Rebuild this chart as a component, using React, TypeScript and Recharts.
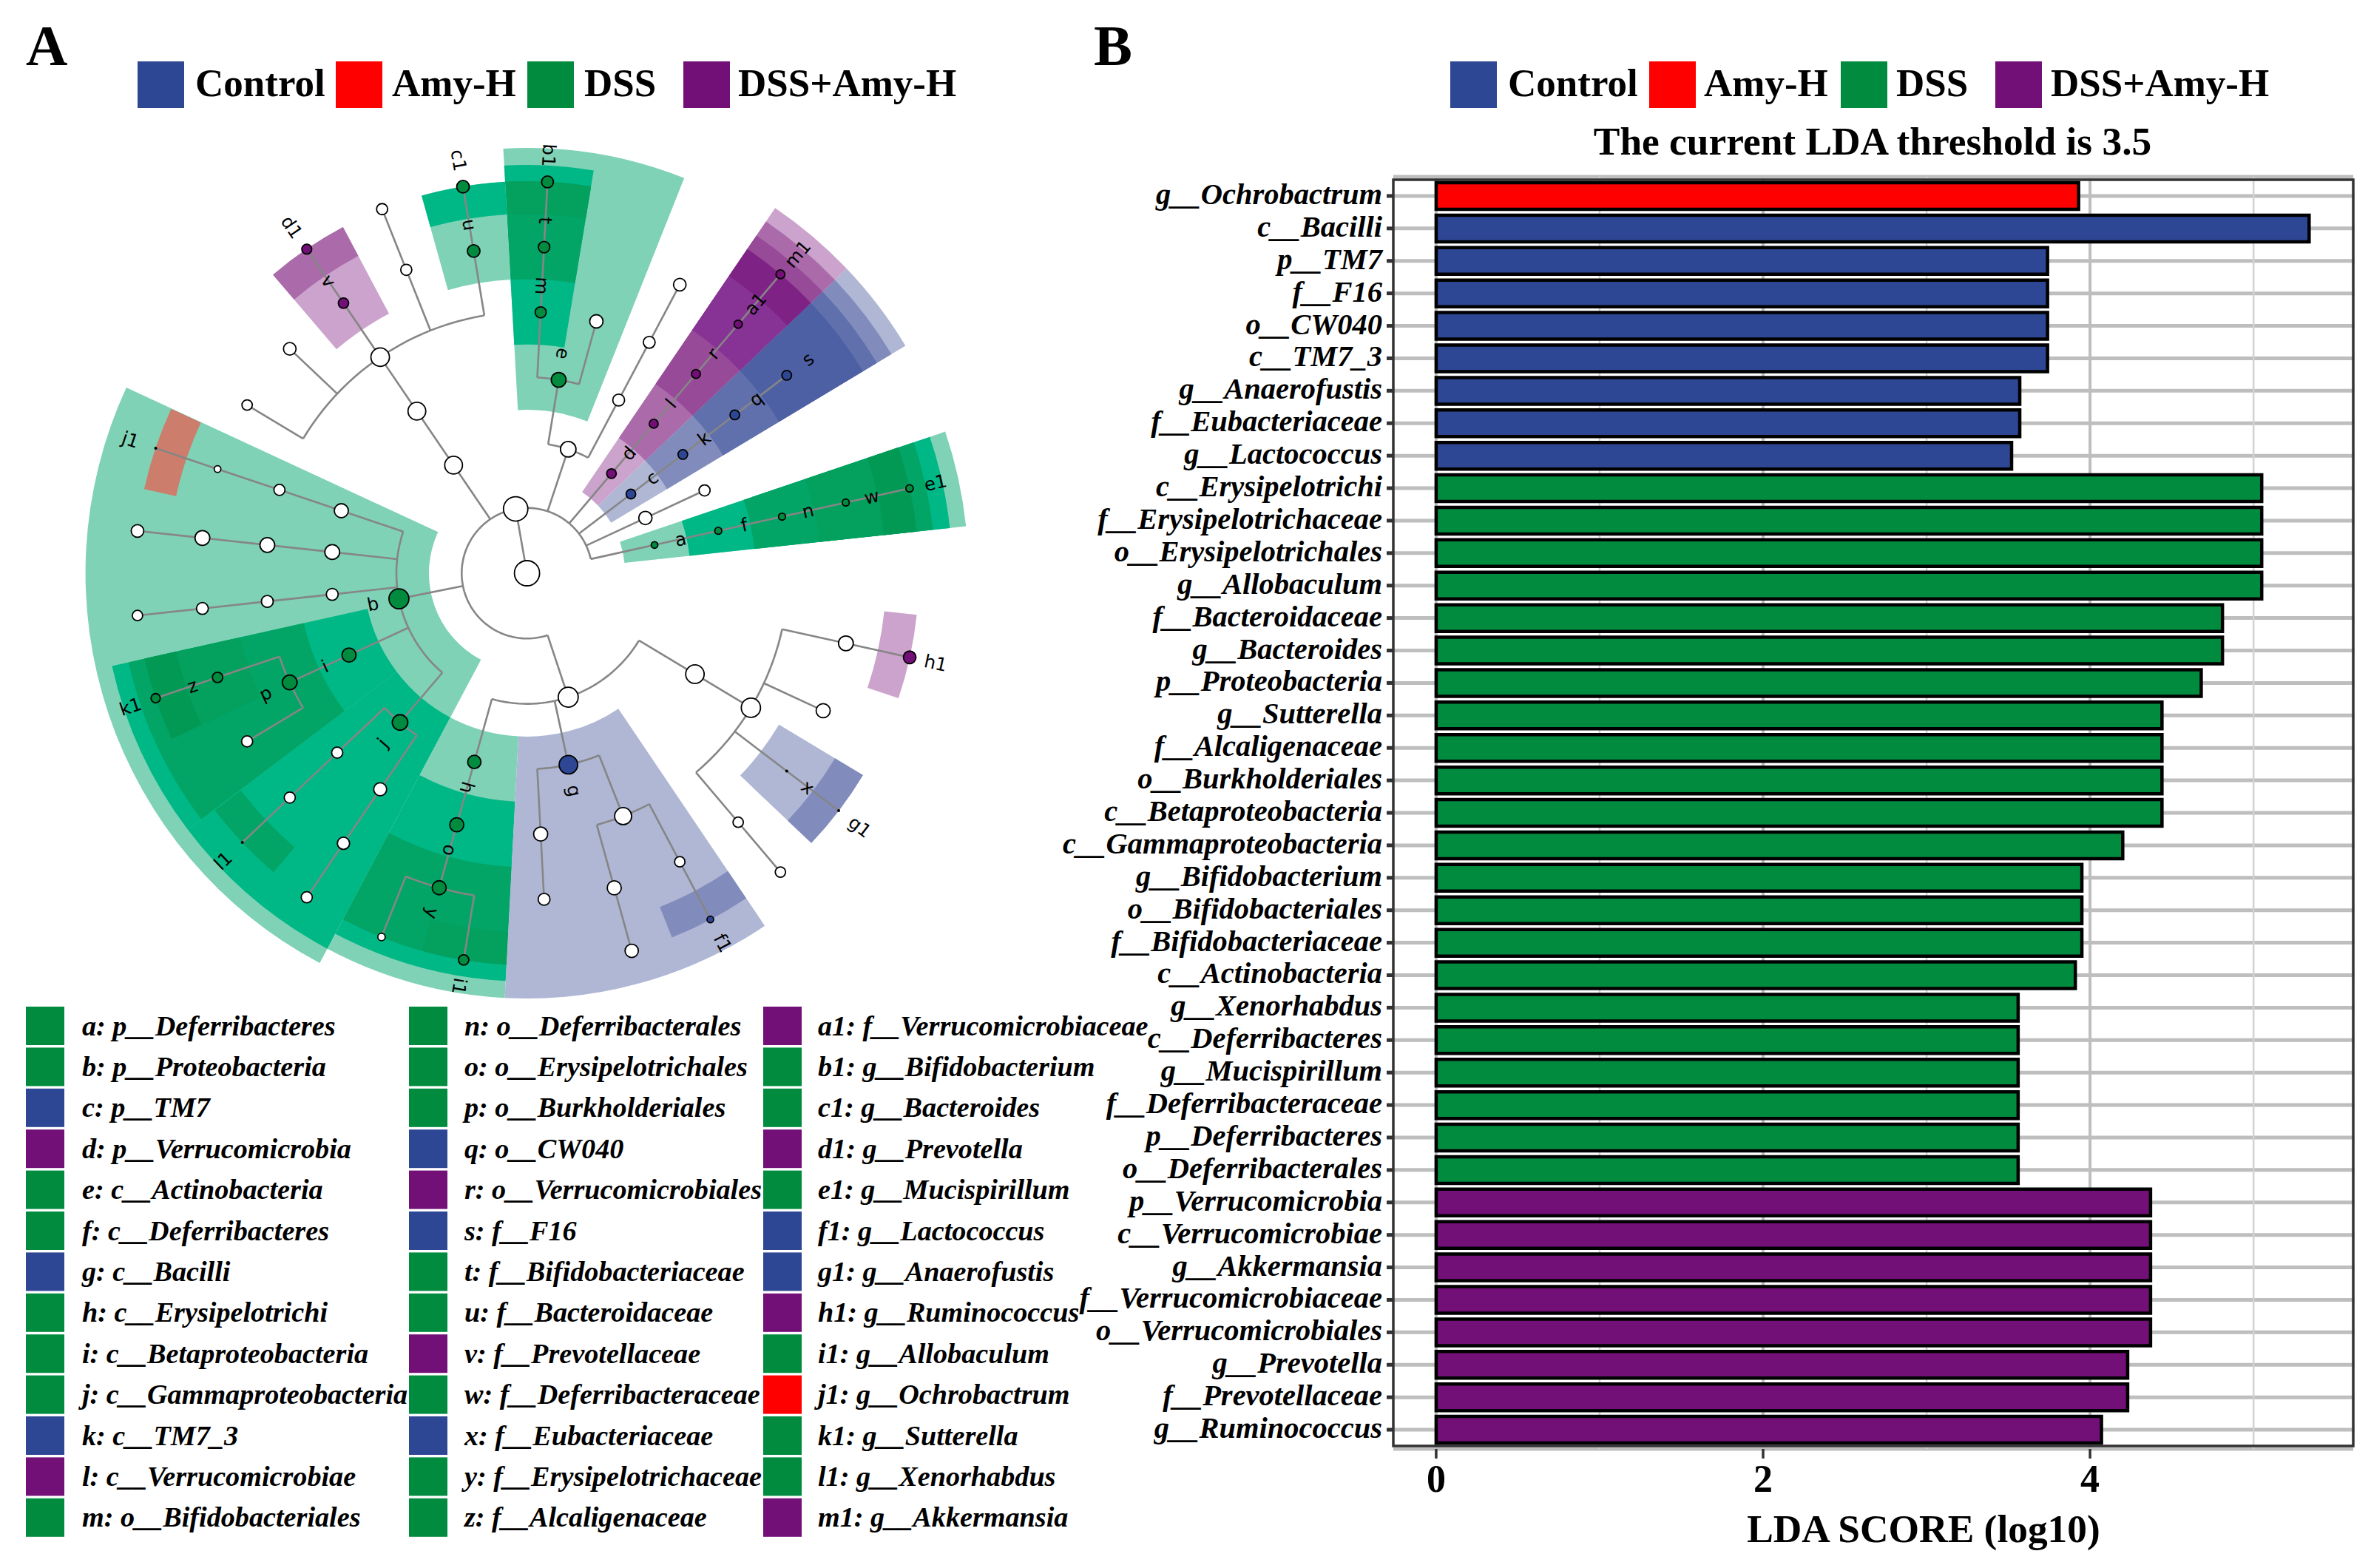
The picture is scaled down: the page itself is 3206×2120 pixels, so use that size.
import React from 'react';
import { BarChart, Bar, Cell, XAxis, YAxis, CartesianGrid, ReferenceArea, PieChart, Pie, ScatterChart, Scatter } from 'recharts';

const groupNames = ['Control', 'Amy-H', 'DSS', 'DSS+Amy-H'];
const C = '#2E4795', R = '#FF0000', G = '#018B3F', P = '#721078';
const groupColors = [C, R, G, P];

// ---------- LDA bars
const barTaxa = ['g__Ochrobactrum','c__Bacilli','p__TM7','f__F16','o__CW040','c__TM7_3','g__Anaerofustis','f__Eubacteriaceae','g__Lactococcus','c__Erysipelotrichi','f__Erysipelotrichaceae','o__Erysipelotrichales','g__Allobaculum','f__Bacteroidaceae','g__Bacteroides','p__Proteobacteria','g__Sutterella','f__Alcaligenaceae','o__Burkholderiales','c__Betaproteobacteria','c__Gammaproteobacteria','g__Bifidobacterium','o__Bifidobacteriales','f__Bifidobacteriaceae','c__Actinobacteria','g__Xenorhabdus','c__Deferribacteres','g__Mucispirillum','f__Deferribacteraceae','p__Deferribacteres','o__Deferribacterales','p__Verrucomicrobia','c__Verrucomicrobiae','g__Akkermansia','f__Verrucomicrobiaceae','o__Verrucomicrobiales','g__Prevotella','f__Prevotellaceae','g__Ruminococcus'];
const barScores = [3.93,5.34,3.74,3.74,3.74,3.74,3.57,3.57,3.52,5.05,5.05,5.05,5.05,4.81,4.81,4.68,4.44,4.44,4.44,4.44,4.2,3.95,3.95,3.95,3.91,3.56,3.56,3.56,3.56,3.56,3.56,4.37,4.37,4.37,4.37,4.37,4.23,4.23,4.07];
const barGroups = [R,C,C,C,C,C,C,C,C,G,G,G,G,G,G,G,G,G,G,G,G,G,G,G,G,G,G,G,G,G,G,P,P,P,P,P,P,P,P];
const barRows = barTaxa.map((name, i) => ({ name, score: barScores[i] }));
const xTicks = [0, 2, 4];

// ---------- taxa legend
const key1 = ['a: p__Deferribacteres','b: p__Proteobacteria','c: p__TM7','d: p__Verrucomicrobia','e: c__Actinobacteria','f: c__Deferribacteres','g: c__Bacilli','h: c__Erysipelotrichi','i: c__Betaproteobacteria','j: c__Gammaproteobacteria','k: c__TM7_3','l: c__Verrucomicrobiae','m: o__Bifidobacteriales'];
const key2 = ['n: o__Deferribacterales','o: o__Erysipelotrichales','p: o__Burkholderiales','q: o__CW040','r: o__Verrucomicrobiales','s: f__F16','t: f__Bifidobacteriaceae','u: f__Bacteroidaceae','v: f__Prevotellaceae','w: f__Deferribacteraceae','x: f__Eubacteriaceae','y: f__Erysipelotrichaceae','z: f__Alcaligenaceae'];
const key3 = ['a1: f__Verrucomicrobiaceae','b1: g__Bifidobacterium','c1: g__Bacteroides','d1: g__Prevotella','e1: g__Mucispirillum','f1: g__Lactococcus','g1: g__Anaerofustis','h1: g__Ruminococcus','i1: g__Allobaculum','j1: g__Ochrobactrum','k1: g__Sutterella','l1: g__Xenorhabdus','m1: g__Akkermansia'];
const keyColors1 = [G,G,C,P,G,G,C,G,G,G,C,P,G];
const keyColors2 = [G,G,G,C,P,C,G,G,P,G,C,G,G];
const keyColors3 = [P,G,G,P,G,C,C,P,G,R,G,G,P];

// ---------- cladogram: [id, parent, depth, angle, abundance size, group, label]
const W = '#FFFFFF';
const clade: any[] = [
  ['root',null,0,100,34,W,''],['K','root',1,100,33,W,''],
  ['a','K',2,12.5,9,G,'a'],['f','a',3,12.5,9.5,G,'f'],['n','f',4,12.5,9.5,G,'n'],['w','n',5,12.5,9.5,G,'w'],['e1','w',6,12.5,10,G,'e1'],
  ['P25','K',2,25,18,W,''],['P25b','P25',3,25,15,W,''],
  ['c','K',2,37.3,13,C,'c'],['k','c',3,37.3,13,C,'k'],['q','k',4,37.3,13,C,'q'],['s','q',5,37.3,13,C,'s'],
  ['d','K',2,49.7,13,P,'d'],['l','d',3,49.7,12,P,'l'],['r','l',4,49.7,12,P,'r'],['a1','r',5,49.7,11,P,'a1'],['m1','a1',6,49.7,12,P,'m1'],
  ['Ac','K',2,71.6,21,W,''],['e','Ac',3,80.7,20,G,'e'],['Ac2','Ac',3,62.1,16,W,''],['Ac3','Ac2',4,62.1,16,W,''],['Ac4','Ac3',5,62.1,17,W,''],
  ['m','e',4,87,15,G,'m'],['t','m',5,87,15.5,G,'t'],['b1','t',6,87,16,G,'b1'],['e2','e',4,74.6,18,W,''],
  ['Bd','K',2,124.2,24,W,''],['Bd2','Bd',3,124.2,24,W,''],['Bd3','Bd2',4,124.2,25,W,''],
  ['v','Bd3',5,124.2,14,P,'v'],['d1','v',6,124.2,13.5,P,'d1'],['u','Bd3',5,99.4,17,G,'u'],['c1','u',6,99.4,17,G,'c1'],
  ['B5','Bd3',5,111.7,15,W,''],['B6','B5',6,111.7,15,W,''],['B7','Bd3',5,136.6,17,W,''],['B8','Bd3',5,149,14,W,''],
  ['b','K',2,191.3,27,G,'b'],
  ['j3','b',3,161.4,19,W,''],['j4','j3',4,161.4,15,W,''],['j5','j4',5,161.4,9,W,''],['j1','j5',6,161.4,4,'#000','j1'],
  ['s3','b',3,173.8,20,W,''],['s4','s3',4,173.8,20,W,''],['s5','s4',5,173.8,20,W,''],['s6','s5',6,173.8,17,W,''],
  ['t3','b',3,186.2,16,W,''],['t4','t3',4,186.2,16,W,''],['t5','t4',5,186.2,16,W,''],['t6','t5',6,186.2,14,W,''],
  ['i','b',3,204.7,19,G,'i'],['p','i',4,204.7,20,G,'p'],['z','p',5,198.6,14,G,'z'],['k1','z',6,198.6,12.5,G,'k1'],['p5','p',5,211,15,W,''],
  ['j','b',3,229.6,21,G,'j'],['l4','j',4,223.4,15,W,''],['l5','l4',5,223.4,15,W,''],['l1','l5',6,223.4,4,'#000','l1'],
  ['n4','j',4,235.8,17.5,W,''],['n5','n4',5,235.8,16.5,W,''],['n6','n5',6,235.8,15,W,''],
  ['F','K',2,288.4,27,W,''],
  ['h','F',3,254.4,18,G,'h'],['o','h',4,254.4,19,G,'o'],['y','o',5,254.4,19,G,'y'],['y6','y',6,248.2,10,W,''],['i1','y',6,260.7,14,G,'i1'],
  ['g','F',3,282.2,25,C,'g'],['g4','g',4,273,19,W,''],['g5','g4',5,273,16,W,''],
  ['h4','g',4,291.6,23,W,''],['h5','h4',5,285.5,19,W,''],['h6','h5',6,285.5,18,W,''],['f5','h4',5,297.9,14,W,''],['f1','f5',6,297.9,9,C,'f1'],
  ['Cl','F',3,329,25,W,''],['Cl2','Cl',4,329,26,W,''],
  ['m5','Cl2',5,310.3,14,W,''],['m6','m5',6,310.3,14,W,''],['x','Cl2',5,322.7,4,'#000','x'],['g1','x',6,322.7,4,'#000','g1'],
  ['r5','Cl2',5,335.1,19,W,''],['u5','Cl2',5,347.6,20,W,''],['h1','u5',6,347.6,17,P,'h1'],
];

// shaded clades: [group, depth, from angle, to angle, stacking layer]
const shades: any[] = [
  ['G',2,6.1,18.7,1],['G',3,6.1,18.7,2],['G',4,6.1,18.7,3],['G',5,6.1,18.7,4],['G',6,6.1,18.7,5],
  ['G',3,68.3,93.2,1],['G',4,80.6,93.2,2],['G',5,80.6,93.2,3],['G',6,80.6,93.2,4],
  ['G',5,93.2,105.6,1],['G',6,93.2,105.6,2],
  ['P',5,118,130.4,1],['P',6,118,130.4,2],
  ['G',2,155.15,242,1],['R',6,155.2,167.6,1],
  ['G',3,192.6,217.1,2],['G',4,192.6,217.1,3],['G',5,192.6,205,4],['G',6,192.6,205,5],
  ['G',3,217.1,242,2],['G',6,217.2,229.7,3],
  ['G',3,242,267,1],['G',4,242,267,2],['G',5,242,267,3],['G',6,254.5,267,4],
  ['B',3,267,304,1],['B',6,291.7,304,2],
  ['P',6,341.4,353.9,1],
  ['B',5,316.5,329,1],['B',6,316.5,329,2],
  ['B',2,31,43.6,1],['B',3,31,43.6,2],['B',4,31,43.6,3],['B',5,31,43.6,4],
  ['P',2,43.6,55.8,1],['P',3,43.6,55.8,2],['P',4,43.6,55.8,3],['P',5,43.6,55.8,4],['P',6,43.6,55.8,5],
];
const shadeTones: any = {
  G: ['#7FD2B6','#00B786','#02A566','#03A05E','#029955'],
  B: ['#AFB7D5','#818CBC','#6070AC','#4E60A4'],
  P: ['#CBA3CC','#AB6BAB','#974A98','#873295','#7E2385'],
  R: ['#CC7D6B'],
};

const STEP = 88.3;
const CX = 712.6, CY = 775, PW = 1440, PH = 1360;
const outerByDepth: any = { 2: 597, 3: 575, 4: 552, 5: 530, 6: 530 };
const pt = (r: number, deg: number) => ({ x: r * Math.cos(deg * Math.PI / 180), y: r * Math.sin(deg * Math.PI / 180) });

const byId: any = {};
clade.forEach((n) => { byId[n[0]] = n; });
const edges: any[] = [];
clade.forEach((n) => {
  if (!n[1]) return;
  const pr = byId[n[1]][2] * STEP;
  edges.push([pt(pr, n[3]), pt(n[2] * STEP, n[3])]);
});
clade.forEach((n) => {
  const kids = clade.filter((k) => k[1] === n[0]);
  if (kids.length < 2) return;
  const as = kids.map((k) => k[3]);
  const lo = Math.min(...as), hi = Math.max(...as);
  const arc = [];
  for (let a = lo; a < hi; a += 2) arc.push(pt(n[2] * STEP, a));
  arc.push(pt(n[2] * STEP, hi));
  edges.push(arc);
});
const nodePts = clade.map((n) => ({ ...pt(n[2] * STEP, n[3]), d: n[4], fill: n[5] }));
const labelPts = clade.filter((n) => n[6]).map((n) => {
  const a = n[3];
  const rot = a < 70 || a >= 250 ? -a : 180 - a;
  return { ...pt(n[2] * STEP + 36, a), text: n[6], rot };
});

const serif = '"Liberation Serif"';
const NodeDot = (p: any) => <circle cx={p.cx} cy={p.cy} r={p.payload.d / 2} fill={p.payload.fill} stroke="#000" strokeWidth={p.payload.d < 6 ? 0 : 1.8} />;
const NodeText = (p: any) => (
  <text x={p.cx} y={p.cy} textAnchor="middle" dominantBaseline="central" fontFamily='"DejaVu Sans"' fontSize={24.5} fill="#000"
    transform={`rotate(${p.payload.rot} ${p.cx} ${p.cy})`}>{p.payload.text}</text>
);
const Nothing = () => null;
const TaxonTick = (p: any) => (
  <text x={p.x} y={p.y + 11} textAnchor="end" fontFamily={serif} fontWeight="bold" fontStyle="italic" fontSize={40.5} fill="#000">{p.payload.value}</text>
);

function Cladogram() {
  return (
    <>
      <div style={{ position: 'absolute', left: 0, top: 0 }}>
        <PieChart width={PW} height={PH} margin={{ top: 0, right: 0, bottom: 0, left: 0 }}>
          {shades.map((s, i) => (
            <Pie key={i} data={[{ value: s[3] - s[2] }]} dataKey="value" cx={CX} cy={CY}
              innerRadius={s[1] * STEP - 44} outerRadius={outerByDepth[s[1]]}
              startAngle={s[2]} endAngle={s[3]} fill={shadeTones[s[0]][s[4] - 1]} stroke="none" isAnimationActive={false} />
          ))}
        </PieChart>
      </div>
      <div style={{ position: 'absolute', left: 0, top: 0 }}>
        <ScatterChart width={PW} height={PH} margin={{ top: 0, right: 0, bottom: 0, left: 0 }}>
          <XAxis type="number" dataKey="x" domain={[-CX, PW - CX]} hide allowDataOverflow />
          <YAxis type="number" dataKey="y" domain={[CY - PH, CY]} hide allowDataOverflow />
          {edges.map((e, i) => (
            <Scatter key={i} data={e} line={{ stroke: '#868686', strokeWidth: 2.6 }} shape={Nothing} isAnimationActive={false} />
          ))}
          <Scatter data={nodePts} shape={NodeDot} isAnimationActive={false} />
          <Scatter data={labelPts} shape={NodeText} isAnimationActive={false} />
        </ScatterChart>
      </div>
    </>
  );
}

function LdaBars() {
  return (
    <div style={{ position: 'absolute', left: 0, top: 0 }}>
      <BarChart width={3206} height={2120} layout="vertical" data={barRows} barCategoryGap={0}
        margin={{ top: 239, right: 24, bottom: 61, left: 1444 }}>
        <CartesianGrid horizontal vertical={false} stroke="#BEBEBE" strokeWidth={5} />
        <CartesianGrid horizontal={false} verticalValues={[0, 2, 4]} stroke="#BEBEBE" strokeWidth={4} />
        <CartesianGrid horizontal={false} verticalValues={[1, 3, 5]} stroke="#D2D2D2" strokeWidth={2.5} />
        <XAxis type="number" dataKey="score" domain={[-0.262, 5.61]} ticks={xTicks} allowDataOverflow height={100}
          axisLine={false} tickSize={13} tickLine={{ stroke: '#333', strokeWidth: 3.5 }} tickMargin={8}
          tick={{ fontFamily: serif, fontWeight: 'bold', fontSize: 52, fill: '#000' }} />
        <YAxis type="category" dataKey="name" width={440} interval={0} padding={{ top: 4, bottom: 4 }}
          axisLine={false} tickSize={9} tickLine={{ stroke: '#333', strokeWidth: 5 }} tickMargin={6}
          tick={TaxonTick} />
        <Bar dataKey="score" barSize={36} isAnimationActive={false} stroke="#000" strokeWidth={4.5}>
          {barRows.map((r, i) => <Cell key={r.name} fill={barGroups[i]} stroke="#000" strokeWidth={4.5} />)}
        </Bar>
        <ReferenceArea x1={-0.262} x2={5.61} fill="none" stroke="#333" strokeWidth={3.5} ifOverflow="visible" />
      </BarChart>
    </div>
  );
}

const swatchA = [186, 454, 713, 924];
const labelA = [264, 530, 790, 998];
const swatchB = [1961, 2230, 2489, 2698];
const labelB = [2039, 2304, 2564, 2773];
const keyCols = [[key1, keyColors1, 35, 111], [key2, keyColors2, 553, 628], [key3, keyColors3, 1032, 1106]] as any[];

function Annotations() {
  const t = { fontFamily: serif, fontWeight: 'bold', fill: '#000' } as any;
  return (
    <svg width={3206} height={2120} style={{ position: 'absolute', left: 0, top: 0, pointerEvents: 'none' }}>
      <text x={35} y={88} fontSize={78} {...t}>A</text>
      <text x={1479} y={88} fontSize={78} {...t}>B</text>
      {groupNames.map((g, i) => (
        <g key={g}>
          <rect x={swatchA[i]} y={83} width={63} height={63} fill={groupColors[i]} />
          <text x={labelA[i]} y={130} fontSize={53} {...t}>{g}</text>
          <rect x={swatchB[i]} y={83} width={63} height={63} fill={groupColors[i]} />
          <text x={labelB[i]} y={130} fontSize={53} {...t}>{g}</text>
        </g>
      ))}
      <text x={2532} y={209} fontSize={53.4} textAnchor="middle" {...t}>The current LDA threshold is 3.5</text>
      <text x={2601} y={2085} fontSize={53.4} textAnchor="middle" {...t}>LDA SCORE (log10)</text>
      {keyCols.map((col, c) => col[0].map((s: string, i: number) => (
        <g key={s}>
          <rect x={col[2]} y={1361 + i * 55.4} width={52} height={52} fill={col[1][i]} />
          <text x={col[3]} y={1399.5 + i * 55.4} fontSize={38.2} fontStyle="italic" {...t}>{s}</text>
        </g>
      )))}
    </svg>
  );
}

export default function App() {
  return (
    <div style={{ position: 'absolute', left: 0, top: 0, width: 3206, height: 2120, background: '#fff', overflow: 'hidden' }}>
      <LdaBars />
      <Cladogram />
      <Annotations />
    </div>
  );
}
